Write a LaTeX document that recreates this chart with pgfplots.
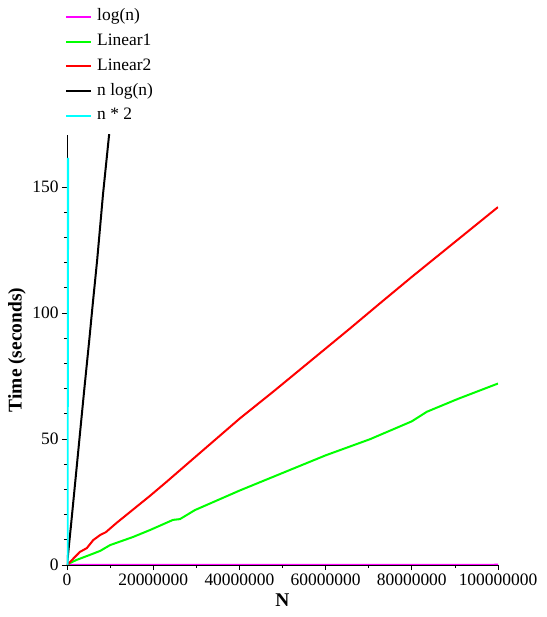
\documentclass[border=0pt]{standalone}
\usepackage{fontspec}
\setmainfont{Liberation Serif}
\usepackage{pgfplots}
\pgfplotsset{compat=1.18}
\definecolor{cMag}{RGB}{255,0,255}
\definecolor{cGreen}{RGB}{0,255,0}
\definecolor{cRed}{RGB}{255,0,0}
\definecolor{cCyan}{RGB}{0,255,255}
\begin{document}
\begin{tikzpicture}
\path[use as bounding box] (-67bp,-52bp) rectangle (480bp,565bp);
\begin{axis}[
  scale only axis,
  width=431bp, height=430bp,
  xmin=0, xmax=100000000,
  ymin=0, ymax=170.6,
  axis x line=bottom, axis y line=left,
  axis line style={-, line width=0.8bp},
  tick align=outside,
  major tick length=5bp, minor tick length=3bp,
  every tick/.style={black, line width=0.8bp},
  xtick={0,20000000,40000000,60000000,80000000,100000000},
  xticklabels={0,20000000,40000000,60000000,80000000,100000000},
  minor x tick num=1,
  ytick={0,50,100,150},
  minor y tick num=4,
  scaled x ticks=false,
  /pgf/number format/assume math mode=true,
  tick label style={font=\fontsize{17.5}{19}\selectfont},
  xlabel={\textbf{N}},
  ylabel={\textbf{Time (seconds)}},
  label style={font=\fontsize{19.5}{21}\selectfont},
  xlabel style={at={(axis description cs:0.5,0)}, anchor=center, yshift=-35bp},
  ylabel style={at={(axis description cs:-0.116,0.5)}, anchor=center},
  legend cell align=left,
  legend image code/.code={\draw[#1, line width=2bp] (0bp,0bp) -- (25bp,0bp);},
  legend style={draw=none, fill=none, at={(axis description cs:-0.0046,1.294)}, anchor=north west,
    inner sep=0pt, row sep=8.8bp, column sep=5bp,
    font=\fontsize{17.5}{19}\selectfont,
    nodes={inner sep=0pt, text height=12bp, text depth=4bp}},
]
\addplot[cMag, line width=2bp] coordinates {(0,0) (100000000,0.1)};
\addlegendentry{log(n)}
\addplot[cGreen, line width=2bp] coordinates {
(0,0) (700000,0.8) (2200000,2) (5300000,4) (7700000,5.6) (10000000,7.9)
(15300000,11.1) (19300000,13.9) (24600000,17.9) (26200000,18.2) (29700000,21.8)
(40000000,29.5) (50000000,36.5) (60000000,43.5) (70300000,49.9) (80000000,57)
(83500000,60.8) (90700000,65.9) (100000000,72)};
\addlegendentry{Linear1}
\addplot[cRed, line width=2bp] coordinates {
(0,0) (3000000,5.2) (4600000,6.7) (6100000,9.9) (7700000,11.9) (9000000,13)
(11500000,16.7) (19300000,27.5) (23100000,33) (28500000,41) (40000000,58)
(48300000,69.4) (65700000,93.9) (72600000,103.8) (80000000,114.3) (100000000,142)};
\addlegendentry{Linear2}
\addplot[black, line width=2bp] coordinates {
(0,0) (1000000,17) (2000000,34.5) (3000000,52) (4000000,69.5) (5170000,89.3)
(6000000,104) (7000000,121) (8350000,147) (9810000,171.4) (10000000,175)};
\addlegendentry{n log(n)}
\addplot[cCyan, line width=3bp] coordinates {(0,0) (150000,161.5)};
\addlegendentry{n * 2}
\end{axis}
\end{tikzpicture}
\end{document}
